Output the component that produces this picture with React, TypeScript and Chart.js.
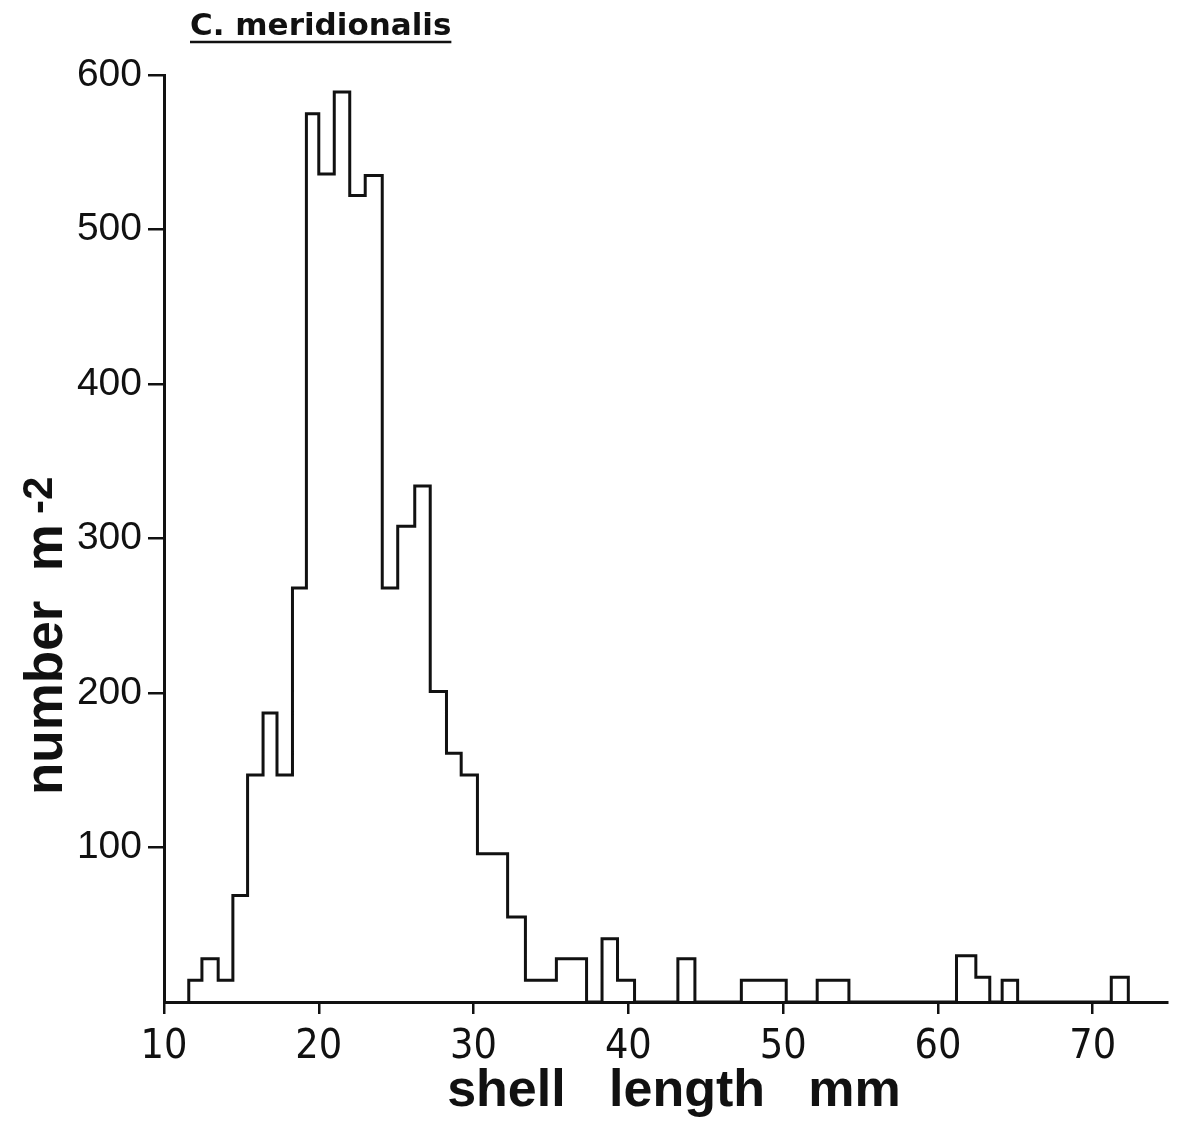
import React, { useEffect, useRef } from "react";
import { Chart, registerables } from "chart.js";

Chart.register(...registerables);

// Histogram of shell length (mm): bin edges and density (number per m^2)
const binEdges = [
  11.6, 12.45, 13.5, 14.45, 15.4, 16.4, 17.3, 18.3, 19.2, 20.0,
  21.0, 22.0, 23.0, 24.1, 25.1, 26.2, 27.2, 28.25, 29.2, 30.25,
  32.2, 33.35, 35.35, 37.3, 38.3, 39.3, 40.4, 43.2, 44.3, 47.3,
  50.2, 52.2, 54.25, 61.2, 62.45, 63.35, 64.15, 65.15, 71.2, 72.3,
];
const counts = [
  14, 28, 14, 69, 147, 187, 147, 268, 575, 536,
  589, 522, 535, 268, 308, 334, 201, 161, 147, 96,
  55, 14, 28, 0, 41, 14, 0, 28, 0, 14,
  0, 14, 0, 30, 16, 0, 14, 0, 16,
];
const xTickValues = [10, 20, 30, 40, 50, 60, 70];
const yTickValues = [100, 200, 300, 400, 500, 600];

const chartTitle = "C. meridionalis";
const xTitle = "shell   length   mm";
const yTitleMain = "number  m";
const yTitleSup = "-2";

export default function App() {
  const ref = useRef<HTMLCanvasElement>(null);

  useEffect(() => {
    const canvas = ref.current;
    if (!canvas) return;

    const pts: { x: number; y: number }[] = [{ x: binEdges[0], y: 0 }];
    counts.forEach((c, i) => pts.push({ x: binEdges[i], y: c }));
    pts.push({ x: binEdges[binEdges.length - 1], y: 0 });

    const textPlugin = {
      id: "texts",
      afterDraw(chart: any) {
        const ctx = chart.ctx as CanvasRenderingContext2D;
        ctx.save();
        ctx.fillStyle = "#111";
        ctx.strokeStyle = "#111";
        // main title with underline
        ctx.font = "bold 31px 'DejaVu Sans', sans-serif";
        ctx.textAlign = "left";
        ctx.textBaseline = "alphabetic";
        ctx.fillText(chartTitle, 190, 35);
        const tw = ctx.measureText(chartTitle).width;
        ctx.lineWidth = 2.5;
        ctx.beginPath();
        ctx.moveTo(190, 42);
        ctx.lineTo(190 + tw, 42);
        ctx.stroke();

        // x title
        ctx.font = "bold 52px 'Liberation Sans', Arial, sans-serif";
        ctx.textAlign = "center";
        ctx.fillText(xTitle, 674, 1106);

        // y title (rotated) with superscript
        ctx.translate(62, 795);
        ctx.rotate(-Math.PI / 2);
        ctx.textAlign = "left";
        ctx.font = "bold 53px 'Liberation Sans', Arial, sans-serif";
        ctx.fillText(yTitleMain, 0, 0);
        const w = ctx.measureText(yTitleMain).width;
        ctx.font = "bold 42px 'Liberation Sans', Arial, sans-serif";
        ctx.fillText(yTitleSup, w + 10, -10);
        ctx.restore();
      },
    };

    const chart = new Chart(canvas, {
      type: "line",
      data: {
        datasets: [
          {
            data: pts,
            stepped: true,
            borderColor: "#111",
            borderWidth: 3,
            pointRadius: 0,
            fill: false,
            tension: 0,
            borderJoinStyle: "miter",
            clip: false,
          } as any,
        ],
      },
      options: {
        animation: false,
        responsive: false,
        devicePixelRatio: 1,
        layout: { padding: { top: 75, right: 10, bottom: 0, left: 0 } },
        plugins: {
          legend: { display: false },
          tooltip: { enabled: false },
          title: { display: false },
        },
        scales: {
          x: {
            type: "linear",
            min: 10,
            max: 74.8,
            afterBuildTicks: (s: any) => {
              s.ticks = xTickValues.map((v) => ({ value: v }));
            },
            afterFit: (s: any) => {
              s.height = 120;
            },
            grid: {
              display: true,
              drawOnChartArea: false,
              drawTicks: true,
              tickLength: 12,
              lineWidth: 2.5,
              color: "#111",
            },
            border: { display: true, width: 3, color: "#111" },
            ticks: {
              color: "#111",
              padding: 9,
              maxRotation: 0,
              font: { family: "'Liberation Sans Narrow', 'DejaVu Sans Condensed', sans-serif", size: 41 },
            },
          },
          y: {
            type: "linear",
            min: 0,
            max: 600,
            afterBuildTicks: (s: any) => {
              s.ticks = yTickValues.map((v) => ({ value: v }));
            },
            afterFit: (s: any) => {
              s.width = 164;
            },
            grid: {
              display: true,
              drawOnChartArea: false,
              drawTicks: true,
              tickLength: 16,
              lineWidth: 2.5,
              color: "#111",
            },
            border: { display: true, width: 3, color: "#111" },
            ticks: {
              color: "#111",
              padding: 6,
              font: { family: "'Liberation Sans', Arial, sans-serif", size: 39 },
            },
          },
        },
      } as any,
      plugins: [textPlugin],
    });

    return () => chart.destroy();
  }, []);

  return (
    <div style={{ position: "absolute", left: 0, top: 0, width: 1177, height: 1122, background: "#fff" }}>
      <canvas ref={ref} width={1177} height={1122} style={{ display: "block" }} />
    </div>
  );
}
